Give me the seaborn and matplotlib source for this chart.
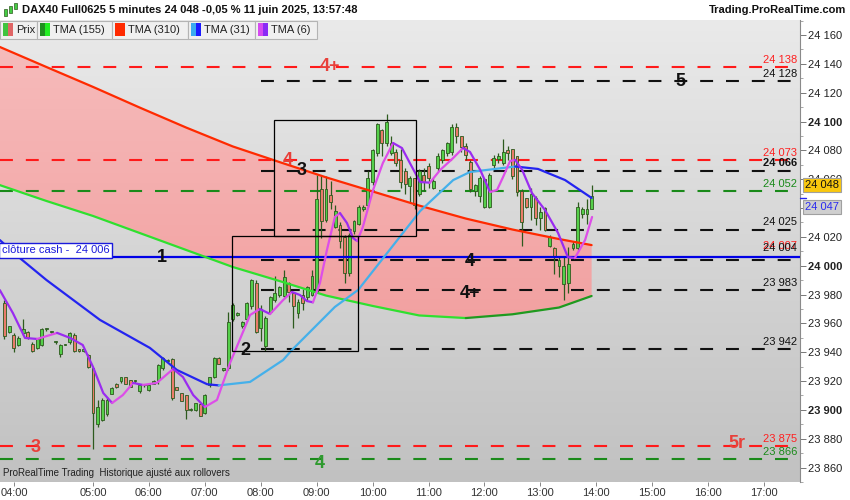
import numpy as np
import pandas as pd
import seaborn as sns
import matplotlib.pyplot as plt
import matplotlib.transforms as mtransforms
from matplotlib.colors import LinearSegmentedColormap
from matplotlib.patches import Rectangle

# 5 minute bars, index 0 = 05:00 bar
bar_idx = list(range(-19, 108))
opens = [23974, 23954, 23952, 23945, 23953, 23954, 23946, 23943, 23945, 23956, 23954, 23947, 23939, 23945, 23947, 23952, 23942, 23941, 23938,
         23929, 23890, 23893, 23897, 23911, 23918, 23920, 23923, 23921, 23920, 23913, 23917, 23914, 23918, 23921, 23929, 23934, 23935, 23916, 23912, 23910, 23900, 23900, 23904, 23898, 23917, 23923, 23936, 23928,
         23929, 23963, 23966, 23958, 23963, 23972, 23988, 23957, 23944, 23968, 23976, 23980, 23979, 23988, 23981, 23967, 23980, 23978, 23980, 23982, 24053, 24032, 24049, 24027, 24028, 24020, 23995, 24024, 24029, 24039,
         24042, 24058, 24078, 24094, 24085, 24078, 24079, 24073, 24066, 24055, 24061, 24050, 24063, 24069, 24054, 24068, 24073, 24078, 24079, 24096, 24090, 24083, 24072, 24052, 24048, 24041, 24041, 24070, 24074, 24071,
         24080, 24081, 24076, 24052, 24047, 24041, 24047, 24033, 24040, 24014, 24012, 24000, 23987, 23988, 24012, 24012, 24036, 24036, 24039]
highs = [23976, 23958, 23953, 23951, 23963, 23955, 23947, 23950, 23957, 23957, 23955, 23948, 23946, 23946, 23954, 23953, 23942, 23942, 23939,
         23929, 23907, 23908, 23909, 23916, 23919, 23923, 23923, 23921, 23921, 23917, 23918, 23917, 23921, 23932, 23937, 23935, 23936, 23916, 23912, 23910, 23901, 23905, 23905, 23911, 23923, 23937, 23937, 23929,
         23968, 23974, 23968, 23962, 23975, 23991, 23990, 23973, 23965, 23979, 23993, 23986, 23997, 23989, 23982, 23977, 23984, 23986, 23997, 24063, 24063, 24062, 24059, 24042, 24030, 24021, 24023, 24032, 24042, 24042,
         24066, 24081, 24099, 24095, 24105, 24090, 24081, 24081, 24068, 24062, 24061, 24067, 24068, 24071, 24061, 24078, 24081, 24086, 24098, 24099, 24090, 24085, 24073, 24057, 24062, 24061, 24064, 24077, 24078, 24088,
         24083, 24081, 24076, 24053, 24047, 24054, 24048, 24041, 24041, 24021, 24013, 24006, 24007, 24013, 24017, 24044, 24041, 24046, 24056]
lows = [23949, 23953, 23940, 23944, 23952, 23949, 23940, 23942, 23944, 23955, 23953, 23946, 23937, 23945, 23946, 23940, 23940, 23940, 23929,
        23873, 23888, 23892, 23896, 23911, 23915, 23919, 23918, 23916, 23919, 23912, 23916, 23913, 23918, 23918, 23928, 23933, 23907, 23914, 23906, 23894, 23899, 23899, 23896, 23897, 23916, 23922, 23932, 23927,
        23928, 23962, 23965, 23957, 23962, 23970, 23953, 23948, 23941, 23967, 23975, 23978, 23978, 23975, 23957, 23964, 23969, 23976, 23979, 23981, 24019, 24030, 24039, 24026, 24012, 23988, 23993, 24022, 24028, 24038,
        24041, 24056, 24076, 24076, 24083, 24077, 24069, 24054, 24050, 24044, 24039, 24048, 24052, 24054, 24053, 24066, 24071, 24076, 24077, 24085, 24079, 24073, 24051, 24048, 24044, 24040, 24040, 24068, 24071, 24070,
        24073, 24060, 24048, 24014, 24040, 24032, 24028, 24025, 24024, 24013, 23994, 23992, 23976, 23981, 24011, 24011, 24033, 24029, 24039]
closes = [23951, 23958, 23943, 23950, 23956, 23950, 23941, 23949, 23956, 23957, 23954.5, 23947.5, 23945, 23946, 23953, 23941, 23941, 23942, 23930,
          23898, 23902, 23907, 23907, 23915, 23916, 23923, 23918, 23916, 23920.5, 23917, 23917.5, 23917, 23920, 23931, 23936, 23934.5, 23908, 23914, 23906, 23900, 23900.5, 23905, 23896, 23910, 23923, 23936, 23932, 23928.5,
          23961, 23973, 23967, 23961, 23974, 23990, 23954, 23970, 23964, 23978, 23981, 23985, 23992, 23982, 23972, 23975, 23974, 23985, 23993, 24046, 24031, 24053, 24044, 24038, 24017, 23995, 24021, 24031, 24041, 24041,
          24061, 24080, 24098, 24085, 24100, 24085, 24071, 24058, 24057, 24061, 24042, 24066, 24058, 24061, 24059, 24076, 24080, 24085, 24096, 24090, 24082, 24077, 24053, 24056, 24061, 24060, 24063, 24075, 24076, 24079,
          24078, 24062, 24051, 24030, 24041, 24050, 24033, 24037, 24025, 24020, 24006, 24004, 24000, 24001, 24015, 24041, 24039, 24039, 24048]

# moving averages
tma_grid = [-20, -10, 0, 10, 20, 30, 40, 50, 60, 70, 80, 90, 100, 107]
tma310 = [24151.7, 24137.8, 24124.0, 24109.7, 24095.8, 24082.7, 24071.9, 24061.3, 24051.5, 24041.7, 24032.7, 24025.1, 24018.5, 24014.3]
tma155 = [24055.9, 24044.9, 24034.5, 24022.7, 24010.9, 23999.1, 23989.4, 23979.3, 23972.1, 23965.5, 23963.7, 23966.3, 23971.0, 23979.0]

tma31_x = [-20, -15.7, -10, 1.5, 12.2, 18, 24.5, 27, 33.7, 40.8, 42.7, 51.9, 56.9, 70.2, 77.3, 80.9, 90.6, 95.5, 101.3, 107]
tma31 = [24017.8, 24005.3, 23990.1, 23962.4, 23943.0, 23927.7, 23917.8, 23917.0, 23919.4, 23934.6, 23941.6, 23971.4, 23983.2,
         24037.9, 24059.4, 24065.0, 24068.8, 24067.1, 24059.4, 24047.0]

tma6_x = [-20.0, -17.2, -14.6, -12.0, -7.7, -4.9, -2.2, 0.0, 2.2, 4.1, 6.4, 8.6, 10.7, 13.7, 17.2, 19.3, 21.5, 24.0, 26.6, 29.4,
          33.7, 35.8, 38.0, 40.8, 42.7, 44.4, 45.9, 47.2, 48.7, 50.2, 51.9, 53.0, 54.5, 55.8, 56.7, 57.9, 60.1, 62.2, 64.4, 66.3,
          68.0, 70.2, 72.3, 74.5, 77.3, 79.4, 80.9, 83.1, 85.2, 86.7, 88.0, 89.5, 90.6, 92.1, 94.2, 97.0, 99.8, 101.9, 103.4, 105.6, 107.1]
tma6 = [23983.1, 23967.2, 23949.9, 23949.2, 23953.4, 23949.9, 23945.0, 23929.8, 23911.7, 23904.8, 23910.3, 23918.7, 23917.3, 23918.7,
        23928.4, 23922.8, 23910.3, 23902.0, 23906.9, 23932.5, 23965.8, 23970.0, 23966.5, 23976.2, 23981.8, 23979.7, 23975.5, 23974.6,
        23988.0, 24010.9, 24033.8, 24036.5, 24029.6, 24019.2, 24017.1, 24026.8, 24052.5, 24071.2, 24085.1, 24081.6, 24071.2, 24058.0,
        24057.6, 24066.4, 24074.7, 24081.6, 24078.9, 24066.4, 24051.1, 24052.5, 24061.5, 24072.6, 24073.4, 24066.4, 24050.4, 24038.6,
        24022.7, 24006.0, 24005.3, 24017.8, 24033.8]

# horizontal levels
levels = [24138, 24128, 24073, 24066, 24052, 24025, 24004, 23983, 23942, 23875, 23866]
level_colors = ['#ff1a1a', '#111111', '#ff1a1a', '#111111', '#1a8a1a', '#111111', '#111111', '#111111', '#111111', '#ff1a1a', '#1a8a1a']
level_start = [-20, 36, -20, 36, -20, 36, 36, 36, 36, -20, -20]
level_labels = ['24 138', '24 128', '24 073', '24 066', '24 052', '24 025', '24 007', '24 004', '23 983', '23 942', '23 875', '23 866']
level_label_y = [24138, 24128, 24073, 24066, 24052, 24025, 24009, 24007, 23983, 23942, 23875, 23866]
level_label_colors = ['#ff2020', '#111111', '#ff2020', '#111111', '#1a8a1a', '#111111', '#ff2020', '#111111', '#111111', '#111111', '#ff2020', '#1a8a1a']
cash_close = 24006

big_text = ['4+', '5', '4', '3', '1', '4', '4+', '2', '3', '5r', '4']
big_x = [50.9, 126.0, 41.8, 44.8, 14.8, 80.9, 80.9, 32.6, -12.4, 138.2, 48.7]
big_y = [24138, 24128, 24073, 24066, 24006, 24003, 23981, 23941, 23874, 23877, 23863]
big_color = ['#e8403a', '#111111', '#e8403a', '#111111', '#111111', '#111111', '#111111', '#111111', '#e8403a', '#e8403a', '#2e9a2e']

rect_left = [38.8, 29.8]
rect_right = [69.3, 56.9]
rect_top = [24101, 24020.6]
rect_bottom = [24020.6, 23940.8]

time_labels = ['04:00', '05:00', '06:00', '07:00', '08:00', '09:00', '10:00', '11:00', '12:00', '13:00', '14:00', '15:00', '16:00', '17:00']
time_pos = [-16.9, 0, 12, 24, 36, 48, 60, 72, 84, 96, 108, 120, 132, 144]
price_ticks = list(range(23860, 24161, 20))

last_price = 24048
tma31_last = 24047

sns.set_theme(style='white')
plt.rcParams['font.family'] = ['Liberation Sans', 'DejaVu Sans']

fig = plt.figure(figsize=(8.5, 5), dpi=100)
fig.patch.set_facecolor('white')
ax = fig.add_axes([0, 18 / 500, 800 / 850, 462 / 500])
ax.set_facecolor('#d8d8d8')

# grey gradient background
bg = LinearSegmentedColormap.from_list('bg', ['#eaeaea', '#c1c1c1'])
ax.imshow(np.linspace(0, 1, 256).reshape(-1, 1), extent=[0, 1, 0, 1], transform=ax.transAxes,
          cmap=bg, aspect='auto', zorder=0)

# pink band between the two long averages
band = ax.fill_between(tma_grid, tma310, tma155, color='none', lw=0)
pink = LinearSegmentedColormap.from_list('pink', ['#f6bcbc', '#f2a0a0'])
im = ax.imshow(np.linspace(0, 1, 256).reshape(-1, 1), extent=[-20, 108, 23955, 24160],
               cmap=pink, aspect='auto', zorder=1)
im.set_clip_path(band.get_paths()[0], transform=ax.transData)

# dashed levels
for lv, c, x0 in zip(levels, level_colors, level_start):
    ax.plot([x0, 152], [lv, lv], color=c, lw=1.5, dashes=(6.2, 6.2), zorder=2)
for lab, ly, c in zip(level_labels, level_label_y, level_label_colors):
    ax.text(151.1, ly + 1.5, lab, color=c, fontsize=8, ha='right', va='bottom', zorder=8,
            fontweight='bold' if lab == '24 066' else 'normal')

ax.plot([-20, 152], [cash_close, cash_close], color='#0000e6', lw=1.6, zorder=5)
ax.text(-19.6, cash_close + 1.2, 'clôture cash -  24 006', color='#1a1adb', fontsize=8, ha='left', va='bottom', zorder=9,
        bbox=dict(boxstyle='square,pad=0.2', fc='white', ec='#1a1adb', lw=1.0))

# candles
df = pd.DataFrame({'k': bar_idx, 'o': opens, 'h': highs, 'l': lows, 'c': closes})
up = df['c'] >= df['o']
body_lo = df[['o', 'c']].min(axis=1)
body_h = (df['c'] - df['o']).abs().clip(lower=0.8)
ax.vlines(df['k'], df['l'], df['h'], color='#2d5a1e', lw=0.9, zorder=3)
ax.bar(df['k'], body_h, bottom=body_lo, width=0.62,
       color=np.where(up, '#55cf4a', '#ea7c6a'), edgecolor='#2d5a1e', linewidth=0.6, zorder=4)


def draw_tma(xs, ys, rise_color, fall_color, lw=1.6):
    xs = np.asarray(xs, dtype=float)
    ys = np.asarray(ys, dtype=float)
    rising = np.diff(ys) > 0
    start = 0
    for i in range(1, len(rising) + 1):
        if i == len(rising) or rising[i] != rising[start]:
            seg = slice(start, i + 1)
            sns.lineplot(x=xs[seg], y=ys[seg], ax=ax, color=rise_color if rising[start] else fall_color,
                         lw=lw, sort=False, zorder=6, solid_capstyle='round')
            start = i


draw_tma(tma_grid, tma310, '#ff2a00', '#ff2a00')
draw_tma(tma_grid, tma155, '#1f9a1f', '#2fe02f')
draw_tma(tma31_x, tma31, '#45b0ea', '#2424f0')
draw_tma(tma6_x, tma6, '#dd4ee8', '#9a2cf0')

for x0, x1, y0, y1 in zip(rect_left, rect_right, rect_bottom, rect_top):
    ax.add_patch(Rectangle((x0, y0), x1 - x0, y1 - y0, fill=False, ec='black', lw=0.9, zorder=7))

for t, x, y, c in zip(big_text, big_x, big_y, big_color):
    ax.text(x, y, t, color=c, fontsize=13, fontweight='bold', ha='center', va='center', zorder=9)

ax.text(-19.4, 23853, 'ProRealTime Trading  Historique ajusté aux rollovers', fontsize=7, color='#222222',
        ha='left', va='bottom', zorder=9)

ax.set_xlim(-19.96, 151.72)
ax.set_ylim(23850.0, 24170.4)

# axes styling
for s in ['top', 'left', 'bottom']:
    ax.spines[s].set_visible(False)
ax.spines['right'].set_color('#8a8a8a')
ax.spines['right'].set_linewidth(0.8)
ax.yaxis.tick_right()
ax.set_yticks(price_ticks)
ax.set_yticklabels([f'{v // 1000} {v % 1000:03d}' for v in price_ticks])
ax.set_yticks(list(range(23850, 24171, 10)), minor=True)
ax.tick_params(axis='y', which='major', direction='out', length=4, width=0.7, color='#777777',
               labelsize=8, labelcolor='#222222', pad=2, right=True, left=False)
ax.tick_params(axis='y', which='minor', direction='out', length=2, width=0.6, color='#999999', right=True, left=False)
for lab in ax.get_yticklabels():
    if lab.get_text() in ('24 100', '24 000', '23 900'):
        lab.set_fontweight('bold')
ax.set_xticks(time_pos)
ax.set_xticklabels(time_labels)
ax.tick_params(axis='x', direction='out', length=3, width=0.7, color='#888888', labelsize=8,
               labelcolor='#333333', pad=1.5, bottom=True)
ax.set_xlabel('')
ax.set_ylabel('')

# price tags on the right axis
tr = mtransforms.blended_transform_factory(ax.transAxes, ax.transData)
ax.text(1.006, last_price + 7.8, '24 048', transform=tr, fontsize=8, color='#111111', ha='left', va='center',
        zorder=20, clip_on=False, bbox=dict(boxstyle='square,pad=0.18', fc='#f9c80e', ec='#a0a0a0', lw=0.8))
ax.text(1.006, tma31_last - 6.3, '24 047', transform=tr, fontsize=8, color='#2a2af0', ha='left', va='center',
        zorder=20, clip_on=False, bbox=dict(boxstyle='square,pad=0.18', fc='#cfcfcf', ec='#a0a0a0', lw=0.8))
ax.plot([1.0, 1.008], [tma31_last, tma31_last], transform=tr, color='#2424f0', lw=1.0, clip_on=False, zorder=20)

# header
W, H = 850, 500


def fx(px):
    return px / W


def fy(py):
    return 1 - py / H


for x0, y0, y1, c in [(4, 9, 16, '#44cc44'), (9, 6, 13, '#44cc44'), (14, 3, 9, '#44cc44')]:
    fig.add_artist(Rectangle((fx(x0), fy(y1)), 3 / W, (y1 - y0) / H, transform=fig.transFigure,
                             fc=c, ec='#2d5a1e', lw=0.5))
fig.text(fx(22), fy(10), 'DAX40 Full0625 5 minutes 24 048 -0,05 % 11 juin 2025, 13:57:48',
         fontsize=8, fontweight='bold', color='#111111', ha='left', va='center')
fig.text(fx(846), fy(10), 'Trading.ProRealTime.com', fontsize=8, fontweight='bold', color='#111111',
         ha='right', va='center')

legend_boxes = [(0, 37, 'Prix', ['#3fc43f', '#e06666']),
                (37, 112, 'TMA (155)', ['#1f8f1f', '#22ee22']),
                (112, 188, 'TMA (310)', ['#ff2a00', '#ff2a00']),
                (188, 255, 'TMA (31)', ['#3aaaf0', '#1a1aff']),
                (255, 317, 'TMA (6)', ['#d54af0', '#8a2af5'])]
for x0, x1, name, cols in legend_boxes:
    fig.add_artist(Rectangle((fx(x0), fy(39)), (x1 - x0) / W, 18 / H, transform=fig.transFigure,
                             fc='#f0f0f0', ec='#b4b4b4', lw=0.8, zorder=10))
    for j, c in enumerate(cols):
        fig.add_artist(Rectangle((fx(x0 + 3 + 5 * j), fy(36)), 5 / W, 13 / H, transform=fig.transFigure,
                                 fc=c, ec='none', zorder=11))
    fig.text(fx(x0 + 16), fy(30), name, fontsize=8, color='#222222', ha='left', va='center', zorder=12)

fig.savefig('out.png', dpi=100)
